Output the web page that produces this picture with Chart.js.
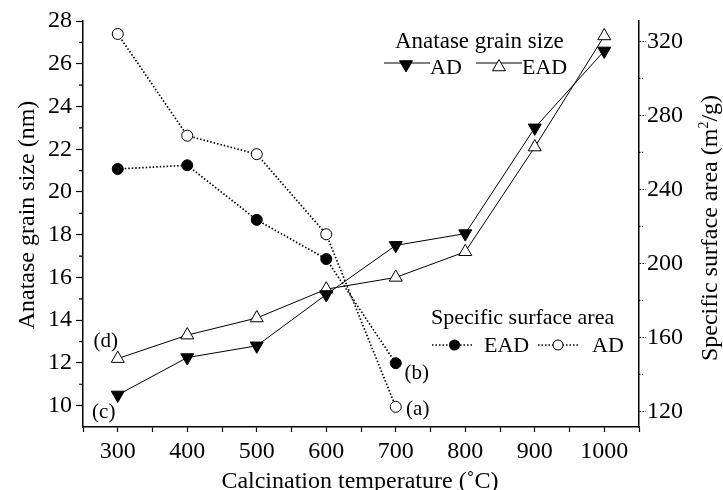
<!DOCTYPE html>
<html>
<head>
<meta charset="utf-8">
<script src="https://cdn.jsdelivr.net/npm/chart.js@4.4.0/dist/chart.umd.min.js"></script>
<style>
  body { margin: 0; background: #fff; }
  #wrap { width: 723px; height: 490px; }
</style>
</head>
<body>
<div id="wrap"><canvas id="grain"></canvas></div>
<script>
// calcination temperatures (°C)
const temps = [300, 400, 500, 600, 700, 800, 900, 1000]
// anatase grain size (nm)
const grainAD = [10.5, 12.25, 12.8, 15.2, 17.5, 18.05, 23.0, 26.6]
const grainEAD = [12.2, 13.3, 14.1, 15.45, 16.0, 17.2, 22.1, 27.3]
// specific surface area (m2/g), only measured up to 700
const areaTemps = [300, 400, 500, 600, 700]
const areaEAD = [251, 253, 223.5, 202.3, 146]
const areaAD = [324, 269, 259, 215.7, 122.4]
// axis ticks
const ticksX = [250, 300, 350, 400, 450, 500, 550, 600, 650, 700, 750, 800, 850, 900, 950, 1000, 1050]
const ticksGrain = [10, 12, 14, 16, 18, 20, 22, 24, 26, 28]
const minorGrain = [11, 13, 15, 17, 19, 21, 23, 25, 27]
const ticksArea = [120, 160, 200, 240, 280, 320]
const minorArea = [140, 180, 220, 260, 300]

const serif = 'Liberation Serif'
const pts = (xs, ys) => xs.map((x, i) => ({x: x, y: ys[i]}))

const extras = {
  id: 'extras',
  afterDraw(chart) {
    const c = chart.ctx
    const sx = chart.scales.x, sy = chart.scales.y, sy2 = chart.scales.y2
    c.save()
    c.strokeStyle = '#000'
    c.fillStyle = '#000'

    // minor ticks
    c.lineWidth = 1.2
    c.beginPath()
    minorGrain.forEach(v => {
      const p = sy.getPixelForValue(v)
      c.moveTo(sy.right, p); c.lineTo(sy.right - 4, p)
    })
    c.stroke()
    c.setLineDash([1.5, 1.5])
    c.beginPath()
    minorArea.forEach(v => {
      const p = sy2.getPixelForValue(v)
      c.moveTo(sy2.left, p); c.lineTo(sy2.left + 4, p)
    })
    c.stroke()
    c.setLineDash([])

    // axis titles
    c.font = '24px ' + serif
    c.textAlign = 'center'
    c.textBaseline = 'alphabetic'
    c.fillText('Calcination temperature (˚C)', 360, 488)

    c.save()
    c.translate(34, 215)
    c.rotate(-Math.PI / 2)
    c.fillText('Anatase grain size (nm)', 0, 0)
    c.restore()

    c.save()
    c.translate(717, 228)
    c.rotate(-Math.PI / 2)
    c.textAlign = 'left'
    const a = 'Specific surface area (m', b = '/g)'
    c.font = '24px ' + serif
    const wa = c.measureText(a).width, wb = c.measureText(b).width
    c.font = '14px ' + serif
    const w2 = c.measureText('2').width
    let x0 = -(wa + w2 + wb) / 2
    c.font = '24px ' + serif
    c.fillText(a, x0, 0)
    c.font = '14px ' + serif
    c.fillText('2', x0 + wa, -9)
    c.font = '24px ' + serif
    c.fillText(b, x0 + wa + w2, 0)
    c.restore()

    // legends
    c.textAlign = 'left'
    c.font = '23px ' + serif
    c.fillText('Anatase grain size', 395, 48)
    c.font = '22px ' + serif
    c.lineWidth = 1
    c.beginPath(); c.moveTo(384, 63); c.lineTo(430, 63); c.stroke()
    c.beginPath(); c.moveTo(476, 63); c.lineTo(522, 63); c.stroke()
    c.fillText('AD', 430, 74)
    c.fillText('EAD', 522, 74)
    const tri = (x, y, r, down, fill) => {
      c.beginPath()
      const s = down ? -1 : 1
      c.moveTo(x, y - s * r)
      c.lineTo(x + r * 0.866, y + s * r / 2)
      c.lineTo(x - r * 0.866, y + s * r / 2)
      c.closePath()
      c.fillStyle = fill
      c.fill()
      c.stroke()
      c.fillStyle = '#000'
    }
    tri(406, 64.5, 7.5, true, '#000')
    tri(499, 67, 7.5, false, '#fff')

    c.fillText('Specific surface area', 431, 324)
    c.setLineDash([1.5, 2])
    c.lineWidth = 1.7
    c.beginPath(); c.moveTo(432, 345); c.lineTo(474, 345); c.stroke()
    c.beginPath(); c.moveTo(538, 345); c.lineTo(578, 345); c.stroke()
    c.setLineDash([])
    c.lineWidth = 1
    c.beginPath(); c.arc(454.5, 345, 5.5, 0, Math.PI * 2); c.fill()
    c.beginPath(); c.arc(558, 345, 5, 0, Math.PI * 2); c.fillStyle = '#fff'; c.fill(); c.stroke()
    c.fillStyle = '#000'
    c.fillText('EAD', 484, 352)
    c.fillText('AD', 592, 352)

    // point labels (a)-(d), anchored to their points
    c.font = '21px ' + serif
    c.textAlign = 'center'
    c.textBaseline = 'middle'
    const at = (t, xv, yv, scale, dx, dy) =>
      c.fillText(t, sx.getPixelForValue(xv) + dx, scale.getPixelForValue(yv) + dy)
    at('(a)', areaTemps[4], areaAD[4], sy2, 22, 3)
    at('(b)', areaTemps[4], areaEAD[4], sy2, 21, 10)
    at('(c)', temps[0], grainAD[0], sy, -14, 18)
    at('(d)', temps[0], grainEAD[0], sy, -12, -17)
    c.restore()
  }
}

var ctx = document.getElementById('grain').getContext('2d')
new Chart(ctx, {
  type: 'line',
  data: {
    datasets: [{
      label: 'AD grain size',
      data: pts(temps, grainAD),
      yAxisID: 'y',
      borderColor: '#000',
      borderWidth: 1,
      pointStyle: 'triangle',
      pointRotation: 180,
      pointRadius: 7.5,
      pointBackgroundColor: '#000',
      pointBorderColor: '#000',
      pointBorderWidth: 1
    }, {
      label: 'EAD grain size',
      data: pts(temps, grainEAD),
      yAxisID: 'y',
      borderColor: '#000',
      borderWidth: 1,
      pointStyle: 'triangle',
      pointRadius: 7.5,
      pointBackgroundColor: '#fff',
      pointBorderColor: '#000',
      pointBorderWidth: 1
    }, {
      label: 'EAD surface area',
      data: pts(areaTemps, areaEAD),
      yAxisID: 'y2',
      borderColor: '#000',
      borderWidth: 1.7,
      borderDash: [1.5, 2],
      pointStyle: 'circle',
      pointRadius: 5.5,
      pointBackgroundColor: '#000',
      pointBorderColor: '#000',
      pointBorderWidth: 1
    }, {
      label: 'AD surface area',
      data: pts(areaTemps, areaAD),
      yAxisID: 'y2',
      borderColor: '#000',
      borderWidth: 1.7,
      borderDash: [1.5, 2],
      pointStyle: 'circle',
      pointRadius: 5.5,
      pointBackgroundColor: '#fff',
      pointBorderColor: '#000',
      pointBorderWidth: 1
    }]
  },
  options: {
    responsive: true,
    maintainAspectRatio: false,
    animation: false,
    layout: { padding: { top: 21, left: 0, right: 0, bottom: 0 } },
    plugins: {
      legend: { display: false },
      tooltip: { enabled: false }
    },
    scales: {
      x: {
        type: 'linear',
        min: 250,
        max: 1050,
        afterBuildTicks: s => { s.ticks = ticksX.map(v => ({value: v})) },
        afterFit: s => { s.height = 63 },
        ticks: {
          color: '#000',
          font: { family: serif, size: 24 },
          padding: 5,
          maxRotation: 0,
          autoSkip: false,
          callback: v => (v % 100 === 0 && v >= 300 && v <= 1000) ? String(v) : ''
        },
        grid: { drawOnChartArea: false, tickLength: 5, tickColor: '#000', tickWidth: 1.2 },
        border: { color: '#000', width: 1.5 }
      },
      y: {
        position: 'left',
        min: 9,
        max: 28,
        afterBuildTicks: s => { s.ticks = ticksGrain.map(v => ({value: v})) },
        afterFit: s => { s.width = 83 },
        ticks: {
          color: '#000',
          font: { family: serif, size: 24 },
          padding: 4,
          callback: v => String(v)
        },
        grid: { drawOnChartArea: false, tickLength: 7, tickColor: '#000', tickWidth: 1.2 },
        border: { color: '#000', width: 1.5 }
      },
      y2: {
        position: 'right',
        min: 111.5,
        max: 331,
        afterBuildTicks: s => { s.ticks = ticksArea.map(v => ({value: v})) },
        afterFit: s => { s.width = 84 },
        ticks: {
          color: '#000',
          font: { family: serif, size: 24 },
          padding: 1,
          callback: v => String(v)
        },
        grid: { drawOnChartArea: false, tickLength: 7, tickColor: '#000', tickWidth: 1.2, tickBorderDash: [1.5, 1.5] },
        border: { color: '#000', width: 1.5, dash: [1.5, 2] }
      }
    }
  },
  plugins: [extras]
})
</script>
</body>
</html>
